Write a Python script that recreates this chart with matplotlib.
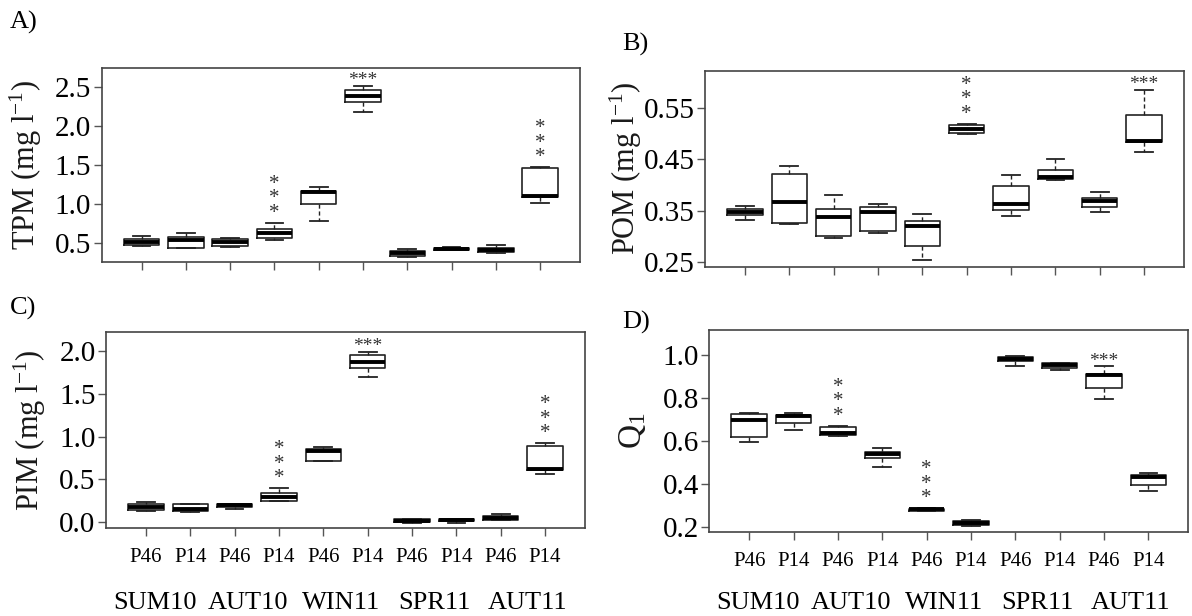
import matplotlib
matplotlib.use("Agg")
import matplotlib.pyplot as plt
from matplotlib.transforms import blended_transform_factory

plt.rcParams['font.family'] = ['Liberation Serif', 'DejaVu Serif']
plt.rcParams['mathtext.fontset'] = 'custom'
plt.rcParams['mathtext.rm'] = 'Liberation Serif'
plt.rcParams['mathtext.it'] = 'Liberation Serif:italic'

# ---------------- data ----------------
groups = ['SUM10', 'AUT10', 'WIN11', 'SPR11', 'AUT11']
sites = ['P46', 'P14'] * 5

# TPM (mg l-1)
tpm_lo = [0.46, 0.44, 0.45, 0.54, 0.78, 2.19, 0.33, 0.415, 0.38, 1.02]
tpm_q1 = [0.48, 0.445, 0.466, 0.564, 1.004, 2.32, 0.337, 0.418, 0.385, 1.10]
tpm_med = [0.52, 0.538, 0.52, 0.636, 1.154, 2.388, 0.372, 0.431, 0.408, 1.11]
tpm_q3 = [0.55, 0.585, 0.551, 0.679, 1.174, 2.465, 0.405, 0.444, 0.442, 1.465]
tpm_hi = [0.594, 0.636, 0.568, 0.764, 1.226, 2.517, 0.431, 0.45, 0.48, 1.475]
tpm_stars = {3: 'v', 5: 'h', 9: 'v'}

# POM (mg l-1)
pom_lo = [0.331, 0.324, 0.296, 0.307, 0.254, 0.499, 0.34, 0.41, 0.347, 0.463]
pom_q1 = [0.342, 0.325, 0.301, 0.31, 0.282, 0.50, 0.351, 0.411, 0.357, 0.483]
pom_med = [0.348, 0.366, 0.338, 0.348, 0.321, 0.508, 0.362, 0.416, 0.368, 0.486]
pom_q3 = [0.353, 0.421, 0.354, 0.357, 0.329, 0.517, 0.398, 0.429, 0.374, 0.535]
pom_hi = [0.359, 0.436, 0.381, 0.363, 0.344, 0.519, 0.419, 0.45, 0.386, 0.585]
pom_stars = {5: 'v', 9: 'h'}

# PIM (mg l-1)
pim_lo = [0.137, 0.12, 0.159, 0.25, 0.716, 1.694, -0.005, -0.01, 0.027, 0.564]
pim_q1 = [0.144, 0.136, 0.175, 0.253, 0.716, 1.806, 0.0, 0.013, 0.031, 0.607]
pim_med = [0.175, 0.155, 0.198, 0.292, 0.833, 1.876, 0.015, 0.023, 0.054, 0.623]
pim_q3 = [0.214, 0.21, 0.214, 0.339, 0.856, 1.954, 0.035, 0.035, 0.074, 0.895]
pim_hi = [0.241, 0.214, 0.214, 0.397, 0.88, 1.993, 0.04, 0.035, 0.093, 0.923]
pim_stars = {3: 'v', 5: 'h', 9: 'v'}

# Q1
q1_lo = [0.595, 0.65, 0.626, 0.479, 0.275, 0.205, 0.947, 0.929, 0.794, 0.367]
q1_q1 = [0.619, 0.684, 0.629, 0.52, 0.278, 0.211, 0.972, 0.941, 0.848, 0.395]
q1_med = [0.698, 0.717, 0.64, 0.539, 0.284, 0.22, 0.98, 0.954, 0.909, 0.435]
q1_q3 = [0.725, 0.722, 0.664, 0.551, 0.287, 0.23, 0.991, 0.961, 0.913, 0.443]
q1_hi = [0.732, 0.732, 0.671, 0.567, 0.288, 0.232, 0.993, 0.963, 0.947, 0.454]
q1_stars = {2: 'v', 4: 'v', 8: 'h'}

# ---------------- figure ----------------
W, H = 1192, 616
fig = plt.figure(figsize=(W / 100, H / 100), dpi=100)


def rect(left, top, right, bottom):
    return [left / W, 1 - bottom / H, (right - left) / W, (bottom - top) / H]


LINE = '#222222'


def panel(r, lo, q1, med, q3, hi, ylim, yticks, fmt, ylabel, stars,
          show_x, label_x, ylab_size=22):
    ax = fig.add_axes(r)
    stats = [dict(whislo=a, q1=b, med=c, q3=d, whishi=e, fliers=[])
             for a, b, c, d, e in zip(lo, q1, med, q3, hi)]
    pos = list(range(1, len(stats) + 1))
    ax.bxp(stats, positions=pos, widths=0.8, capwidths=0.4,
           showfliers=False,
           boxprops=dict(color=LINE, lw=1.2),
           medianprops=dict(color='black', lw=2.8, solid_capstyle='butt'),
           whiskerprops=dict(color=LINE, lw=1.0, linestyle=(0, (3, 2))),
           capprops=dict(color=LINE, lw=1.3))
    ax.set_xlim(0.1, 10.9)
    ax.set_ylim(*ylim)
    ax.set_yticks(yticks)
    ax.set_yticklabels([fmt % v for v in yticks])
    ax.set_xticks(pos)
    if show_x:
        ax.set_xticklabels(sites)
    else:
        ax.set_xticklabels([''] * len(pos))
    ax.tick_params(axis='both', direction='out', length=5.5, width=1.0,
                   color='#555555')
    ax.tick_params(axis='y', labelsize=21, pad=2)
    ax.tick_params(axis='x', labelsize=15, pad=9)
    for s in ax.spines.values():
        s.set_color('#444444')
        s.set_linewidth(1.2)
    ax.set_ylabel(ylabel, fontsize=ylab_size, va='center', color='#1a1a1a')
    ax.yaxis.set_label_coords(label_x, 0.5)
    # significance asterisks
    for i, kind in stars.items():
        x = pos[i]
        y = hi[i]
        if kind == 'h':
            ax.annotate('***', xy=(x, y), xytext=(0, 0.5),
                        textcoords='offset points', ha='center',
                        va='baseline', fontsize=14, color='#333333')
        else:
            ax.annotate('*\n*\n*', xy=(x, y), xytext=(0, 0.0),
                        textcoords='offset points', ha='center',
                        va='bottom', fontsize=15, color='#333333',
                        linespacing=0.68)
    if show_x:
        tr = blended_transform_factory(ax.transData, fig.transFigure)
        for j, g in enumerate(groups):
            ax.text(1.2 + 2.1 * j, 1 - 603 / H, g, transform=tr,
                    ha='center', va='center', fontsize=19)
    return ax


panel(rect(101.7, 68, 580, 262), tpm_lo, tpm_q1, tpm_med, tpm_q3, tpm_hi,
      (0.26, 2.75), [0.5, 1.0, 1.5, 2.0, 2.5], '%.1f',
      'TPM (mg l$^{-1}$)', tpm_stars, False, -0.158)
panel(rect(705, 70.7, 1184, 266.7), pom_lo, pom_q1, pom_med, pom_q3, pom_hi,
      (0.241, 0.622), [0.25, 0.35, 0.45, 0.55], '%.2f',
      'POM (mg l$^{-1}$)', pom_stars, False, -0.165)
panel(rect(106, 332.3, 585, 527.7), pim_lo, pim_q1, pim_med, pim_q3, pim_hi,
      (-0.063, 2.218), [0.0, 0.5, 1.0, 1.5, 2.0], '%.1f',
      'PIM (mg l$^{-1}$)', pim_stars, True, -0.158)
panel(rect(709.3, 330, 1188.3, 532.3), q1_lo, q1_q1, q1_med, q1_q3, q1_hi,
      (0.177, 1.116), [0.2, 0.4, 0.6, 0.8, 1.0], '%.1f',
      'Q$_1$', q1_stars, True, -0.16, ylab_size=24)

for txt, x, y in [('A)', 10, 22), ('B)', 622, 44), ('C)', 10, 308), ('D)', 622, 322)]:
    fig.text(x / W, 1 - y / H, txt, fontsize=19, ha='left', va='center')

fig.savefig('out.png', dpi=100)
